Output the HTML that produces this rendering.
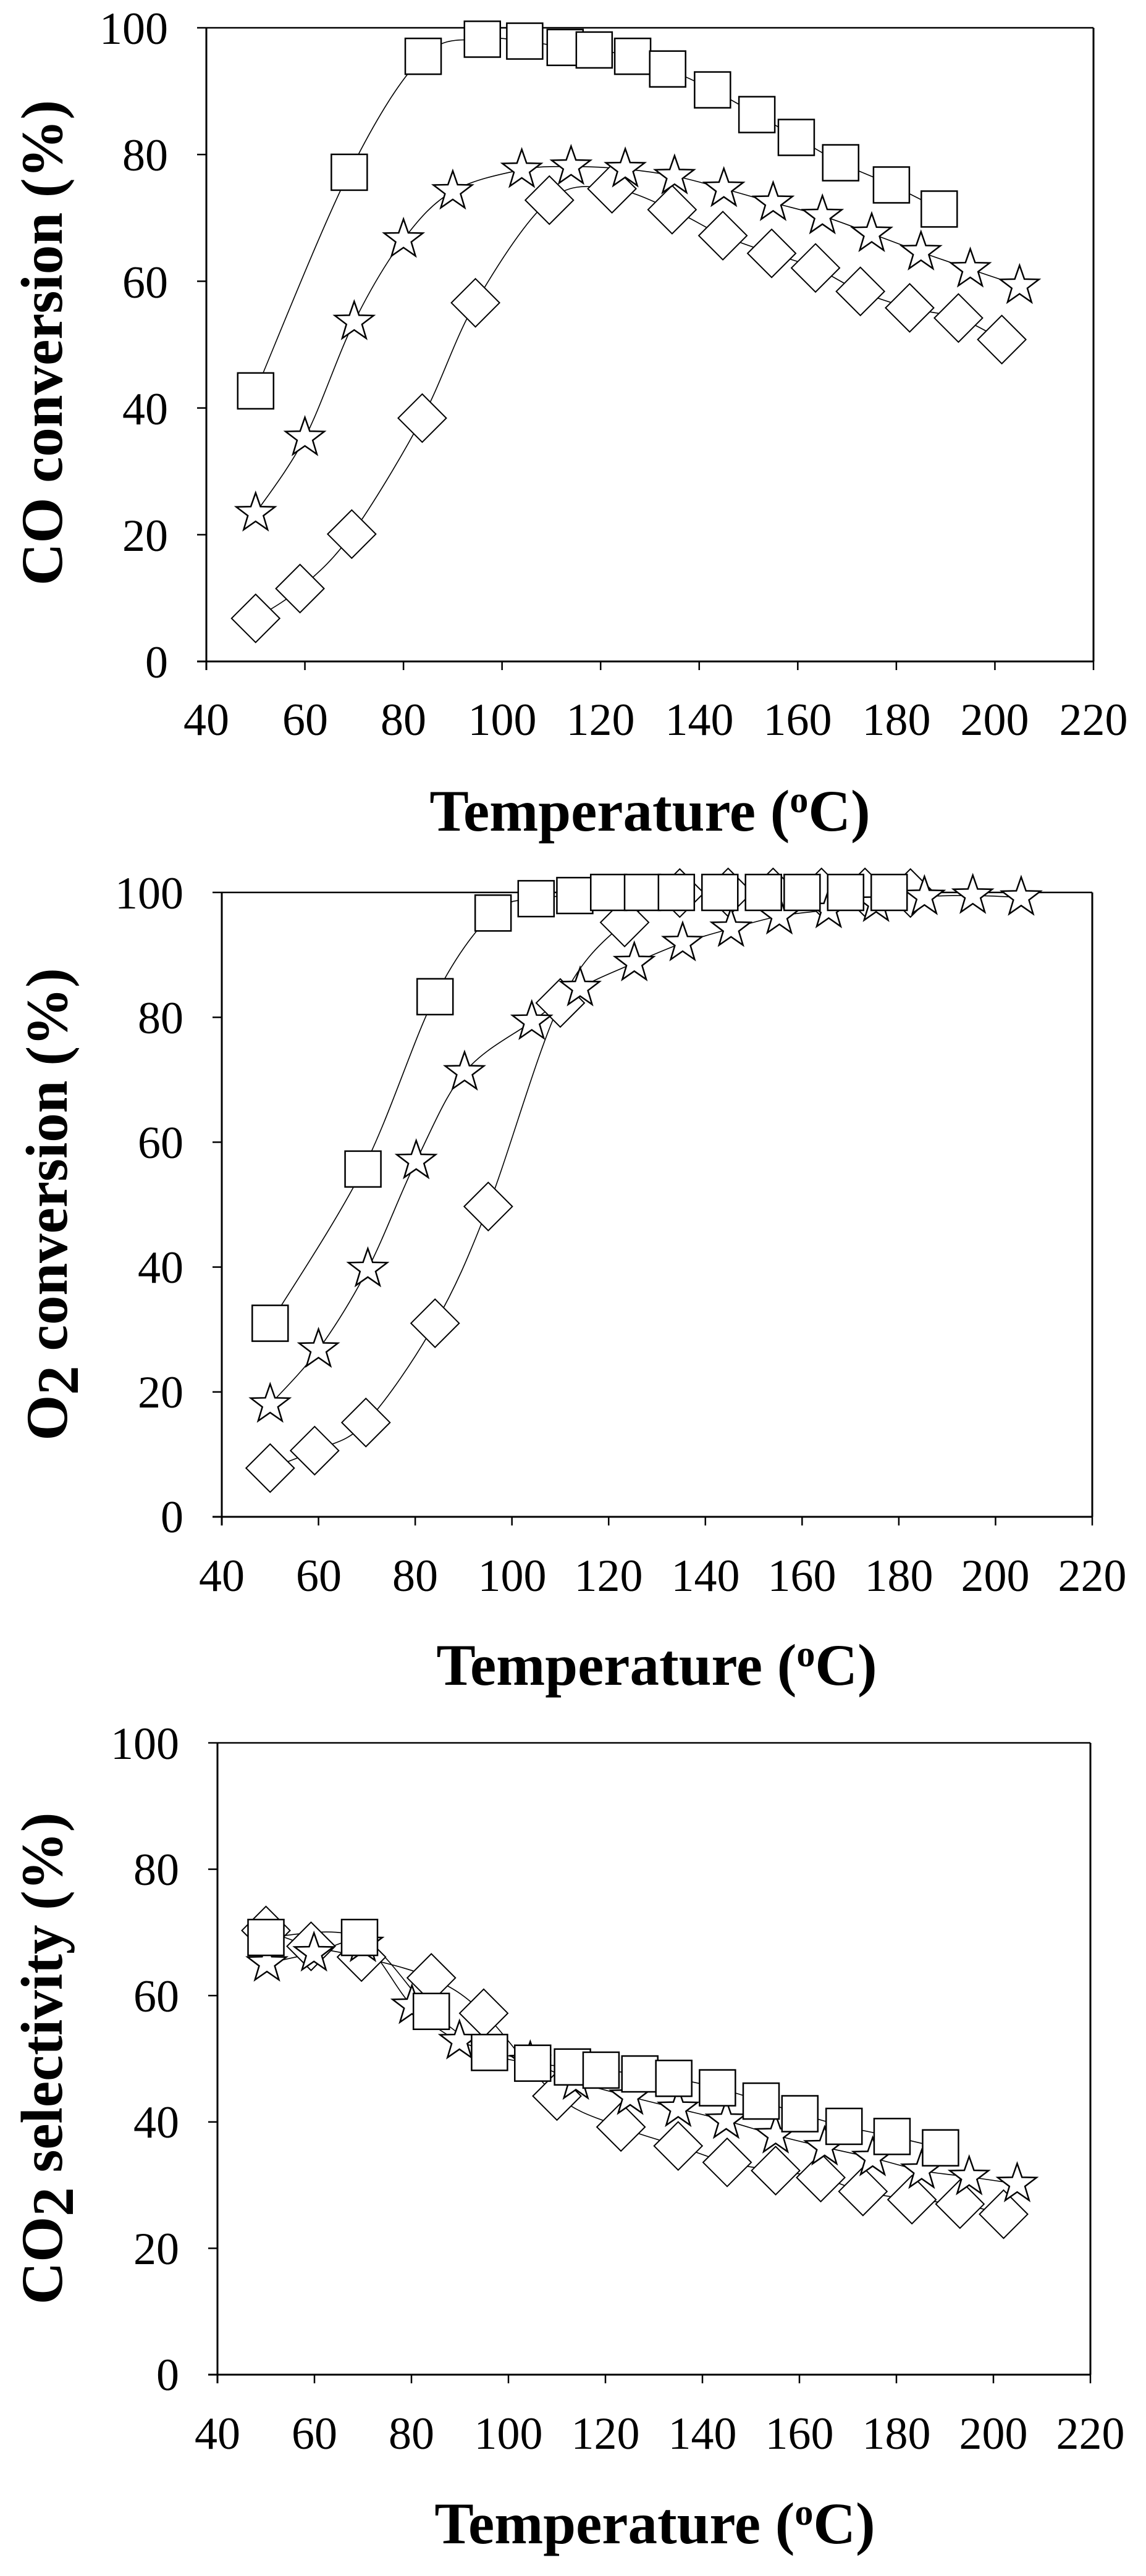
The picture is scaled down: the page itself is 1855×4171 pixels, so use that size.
<!DOCTYPE html>
<html><head><meta charset="utf-8">
<style>
html,body{margin:0;padding:0;background:#fff;}
svg{display:block;}
text{font-family:"Liberation Serif",serif;fill:#000;}
.tk{font-size:74px;}
.lb{font-size:95px;font-weight:bold;}
</style></head>
<body>
<svg id="s" width="1855" height="4171" viewBox="0 0 1855 4171" xmlns="http://www.w3.org/2000/svg">
<defs>
<symbol id="sq" overflow="visible"><rect x="-29" y="-29" width="58" height="58" fill="#fff" stroke="#000" stroke-width="2.5"/></symbol>
<symbol id="dm" overflow="visible"><path d="M0,-39 L39,0 L0,39 L-39,0 Z" fill="#fff" stroke="#000" stroke-width="2"/></symbol>
<symbol id="st" overflow="visible"><path d="M0,-33 L7.8,-10.7 L31.4,-10.2 L12.6,4.1 L19.4,26.7 L0,13.2 L-19.4,26.7 L-12.6,4.1 L-31.4,-10.2 L-7.8,-10.7 Z" fill="#fff" stroke="#000" stroke-width="2.5"/></symbol>
</defs>
<g id="g1"></g><g id="g2"></g><g id="g3"></g>

<!-- Chart 1 labels -->
<g class="tk" text-anchor="end">
<text x="272" y="71">100</text><text x="272" y="276">80</text><text x="272" y="482">60</text><text x="272" y="687">40</text><text x="272" y="892">20</text><text x="272" y="1097">0</text>
</g>
<g class="tk" text-anchor="middle">
<text x="334" y="1190">40</text><text x="494" y="1190">60</text><text x="653" y="1190">80</text><text x="813" y="1190">100</text><text x="972" y="1190">120</text><text x="1132" y="1190">140</text><text x="1291" y="1190">160</text><text x="1451" y="1190">180</text><text x="1610" y="1190">200</text><text x="1770" y="1190">220</text>
</g>
<text class="lb" x="1052" y="1345" text-anchor="middle">Temperature (<tspan font-size="60" dy="-30">o</tspan><tspan dy="30">C)</tspan></text>
<text class="lb" transform="translate(100,555) rotate(-90)" text-anchor="middle">CO conversion (%)</text>

<!-- Chart 2 labels -->
<g class="tk" text-anchor="end">
<text x="297" y="1471">100</text><text x="297" y="1673">80</text><text x="297" y="1875">60</text><text x="297" y="2077">40</text><text x="297" y="2279">20</text><text x="297" y="2481">0</text>
</g>
<g class="tk" text-anchor="middle">
<text x="359" y="2576">40</text><text x="516" y="2576">60</text><text x="672" y="2576">80</text><text x="829" y="2576">100</text><text x="985" y="2576">120</text><text x="1142" y="2576">140</text><text x="1298" y="2576">160</text><text x="1455" y="2576">180</text><text x="1611" y="2576">200</text><text x="1768" y="2576">220</text>
</g>
<text class="lb" x="1063" y="2728" text-anchor="middle">Temperature (<tspan font-size="60" dy="-30">o</tspan><tspan dy="30">C)</tspan></text>
<text class="lb" transform="translate(108,1950) rotate(-90)" text-anchor="middle">O<tspan dy="18">2</tspan><tspan dy="-18"> conversion (%)</tspan></text>

<!-- Chart 3 labels -->
<g class="tk" text-anchor="end">
<text x="290" y="2848">100</text><text x="290" y="3052">80</text><text x="290" y="3257">60</text><text x="290" y="3461">40</text><text x="290" y="3666">20</text><text x="290" y="3870">0</text>
</g>
<g class="tk" text-anchor="middle">
<text x="352" y="3965">40</text><text x="509" y="3965">60</text><text x="666" y="3965">80</text><text x="823" y="3965">100</text><text x="980" y="3965">120</text><text x="1137" y="3965">140</text><text x="1294" y="3965">160</text><text x="1451" y="3965">180</text><text x="1608" y="3965">200</text><text x="1765" y="3965">220</text>
</g>
<text class="lb" x="1060" y="4118" text-anchor="middle">Temperature (<tspan font-size="60" dy="-30">o</tspan><tspan dy="30">C)</tspan></text>
<text class="lb" transform="translate(100,3333) rotate(-90)" text-anchor="middle">CO<tspan dy="18">2</tspan><tspan dy="-18"> selectivity (%)</tspan></text>
</svg>
<script>
var NS="http://www.w3.org/2000/svg";
function el(p,t,a){var e=document.createElementNS(NS,t);for(var k in a)e.setAttribute(k,a[k]);p.appendChild(e);return e;}
function smooth(pts){
  var d="M"+pts[0][0].toFixed(1)+","+pts[0][1].toFixed(1);
  for(var i=0;i<pts.length-1;i++){
    var p0=pts[i-1]||pts[i],p1=pts[i],p2=pts[i+1],p3=pts[i+2]||p2;
    var c1=[p1[0]+(p2[0]-p0[0])/6,p1[1]+(p2[1]-p0[1])/6];
    var c2=[p2[0]-(p3[0]-p1[0])/6,p2[1]-(p3[1]-p1[1])/6];
    d+="C"+c1[0].toFixed(1)+","+c1[1].toFixed(1)+" "+c2[0].toFixed(1)+","+c2[1].toFixed(1)+" "+p2[0].toFixed(1)+","+p2[1].toFixed(1);
  }
  return d;
}
function chart(gid,L,R,T,B,series){
  var g=document.getElementById(gid);
  var X=function(v){return L+(v-40)*(R-L)/180;}, Y=function(v){return B-v*(B-T)/100;};
  el(g,"line",{x1:L,y1:T,x2:R,y2:T,stroke:"#000","stroke-width":2.5});
  el(g,"line",{x1:R,y1:T,x2:R,y2:B,stroke:"#000","stroke-width":3});
  el(g,"line",{x1:L,y1:T-1,x2:L,y2:B+14,stroke:"#000","stroke-width":3});
  el(g,"line",{x1:L-15,y1:B,x2:R,y2:B,stroke:"#000","stroke-width":3});
  for(var i=0;i<=5;i++){var y=Y(i*20);el(g,"line",{x1:L-15,y1:y,x2:L,y2:y,stroke:"#000","stroke-width":2.5});}
  for(var i=0;i<=9;i++){var x=X(40+i*20);el(g,"line",{x1:x,y1:B,x2:x,y2:B+14,stroke:"#000","stroke-width":2.5});}
  series.forEach(function(s){
    var pts=s.d.map(function(p){return [X(p[0]),Y(p[1])];});
    el(g,"path",{d:smooth(pts),fill:"none",stroke:"#000","stroke-width":1.6});
  });
  series.forEach(function(s){
    s.d.forEach(function(p){el(g,"use",{href:"#"+s.m,x:X(p[0]),y:Y(p[1])});});
  });
}
chart("g1",334,1770,45,1071,[
 {m:"dm",d:[[50,6.8],[59,11.5],[69.5,20.1],[83.8,38.4],[94.6,56.6],[109.6,72.8],[122.3,74.6],[134.5,71.3],[144.8,67.2],[154.7,64.4],[163.6,62.1],[172.7,58.4],[182.7,55.8],[192.6,54.2],[201.4,50.8]]},
 {m:"st",d:[[50,23.4],[60,35.3],[70,53.6],[80,66.6],[90,74.2],[104,77.6],[114,78.1],[125,77.7],[135,76.6],[145,74.6],[155,72.4],[165,70.3],[175,67.5],[185,64.6],[195,61.9],[205,59.3]]},
 {m:"sq",d:[[50,42.7],[69,77.2],[84,95.5],[96,98.2],[104.6,97.9],[112.8,96.9],[118.7,96.5],[126.5,95.5],[133.6,93.5],[142.7,90.2],[151.7,86.3],[159.7,82.7],[168.7,78.7],[179,75.2],[188.7,71.4]]}
]);
chart("g2",359,1768,1445,2456,[
 {m:"dm",d:[[50,7.8],[59.2,10.6],[69.8,15.1],[84.1,31],[95.1,49.7],[110,82.3],[123.3,95.2],[134.7,99.9],[144.7,100],[154,100],[164,100],[173,100],[182.4,99.9]]},
 {m:"st",d:[[50,18],[60,26.8],[70.2,39.7],[80.2,57],[90.2,71.2],[104.1,79.3],[114.1,84.7],[125.3,88.7],[135.3,91.9],[145.3,94.2],[155.3,96.2],[165.5,97.2],[175.3,98.2],[185.3,99.3],[195.3,99.5],[205.3,99.2]]},
 {m:"sq",d:[[50,31],[69.2,55.7],[84.1,83.3],[96.1,96.7],[105,99],[113,99.5],[120,100],[127,100],[134,100],[143,100],[152,100],[160,100],[169,100],[178,100]]}
]);
chart("g3",352,1765,2822,3845,[
 {m:"dm",d:[[50,70.3],[59.3,67.8],[69.7,66.1],[84.1,62.8],[94.9,57.2],[110,44.1],[123.2,39.2],[135,36.2],[145.1,33.6],[155.1,32.3],[164.4,31.2],[173.1,29],[183.2,27.7],[193.1,27],[202.1,25.4]]},
 {m:"st",d:[[50.2,65.1],[59.9,66.7],[70,68.2],[80.1,58.4],[89.9,52.8],[104.5,49.5],[113.9,46.4],[125.1,44],[135,42.1],[144.9,40.2],[155.1,37.9],[165.2,36],[175.1,34.3],[185.2,32.3],[195,31.3],[204.9,30.2]]},
 {m:"sq",d:[[50,69.2],[69.3,69.2],[84.1,57.5],[96.1,51],[105,49.3],[113.2,48.7],[119.1,48.2],[127.1,47.6],[134.1,46.9],[143.1,45.4],[152.1,43.3],[160.1,41.3],[169.2,39.3],[179.1,37.7],[189.1,35.9]]}
]);
</script>
</body></html>
